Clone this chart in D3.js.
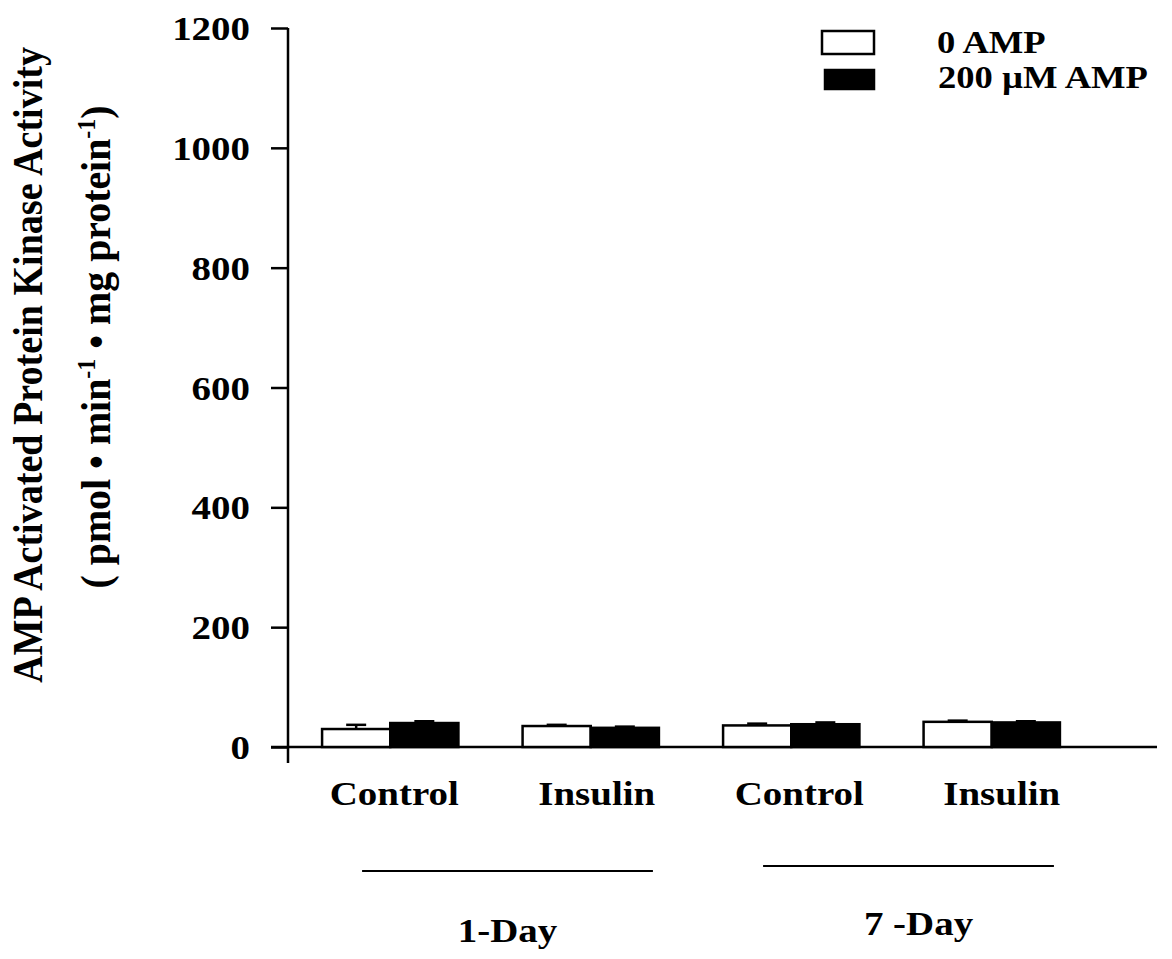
<!DOCTYPE html>
<html>
<head>
<meta charset="utf-8">
<script src="https://cdn.jsdelivr.net/npm/d3@7"></script>
<style>
  html, body { margin: 0; padding: 0; background: #fff; }
  svg { display: block; }
  text { font-family: "Liberation Serif", "Times New Roman", serif; font-weight: bold; fill: #000; }
</style>
</head>
<body>
<svg id="chart" width="1172" height="959"></svg>
<script>
// ---- data ----
const categories = ["Control", "Insulin", "Control", "Insulin"];
const groups = ["1-Day", "7 -Day"];
const groupOf = [0, 0, 1, 1];
const seriesNames = ["0 AMP", "200 \u00B5M AMP"];
const values0AMP = [30, 35, 36, 42];
const values200AMP = [40, 32, 38, 41];
const err0AMP = [7, 2, 3, 2];
const err200AMP = [3, 2, 3, 2];
const yTicks = [0, 200, 400, 600, 800, 1000, 1200];

// ---- layout ----
const svg = d3.select("#chart");
const SX = 1.18; // horizontal stretch of the scanned lettering
const axisX = 288;

const y = d3.scaleLinear().domain([0, 1200]).range([747, 28]);
const x = d3.scaleBand().domain(d3.range(categories.length))
  .range([290, 1092]).paddingInner(0.32).paddingOuter(0.16);
const xs = d3.scaleBand().domain([0, 1]).range([0, x.bandwidth()]);

const seriesValues = [values0AMP, values200AMP];
const seriesErr = [err0AMP, err200AMP];
const fills = ["#fff", "#000"];

// y axis
const yAxis = d3.axisLeft(y).tickValues(yTicks).tickSize(17).tickPadding(21).tickFormat(d3.format("d"));
const gy = svg.append("g").attr("transform", `translate(${axisX},0)`).call(yAxis);
gy.select(".domain").remove();
gy.selectAll(".tick line").attr("stroke", "#000").attr("stroke-width", 2.5);
gy.selectAll(".tick text")
  .attr("x", null).attr("dy", null)
  .attr("transform", `translate(-38,0) scale(${SX},1)`)
  .attr("dy", "0.35em")
  .style("font-size", "33px")
  .style("font-family", "'Liberation Serif', serif")
  .style("font-weight", "bold")
  .attr("text-anchor", "end");

svg.append("line")
  .attr("x1", axisX).attr("x2", axisX)
  .attr("y1", y(1200)).attr("y2", y(0) + 16)
  .attr("stroke", "#000").attr("stroke-width", 2.5);

// baseline
svg.append("line")
  .attr("x1", axisX - 17).attr("x2", 1157)
  .attr("y1", y(0)).attr("y2", y(0))
  .attr("stroke", "#000").attr("stroke-width", 2.5);

// bars
const barData = [];
categories.forEach((c, i) => {
  [0, 1].forEach(s => barData.push({ i, s, v: seriesValues[s][i], e: seriesErr[s][i] }));
});

svg.append("g").selectAll("rect").data(barData).join("rect")
  .attr("x", d => x(d.i) + xs(d.s))
  .attr("width", xs.bandwidth())
  .attr("y", d => y(d.v))
  .attr("height", d => y(0) - y(d.v))
  .attr("fill", d => fills[d.s])
  .attr("stroke", "#000")
  .attr("stroke-width", 2.5);

// error bars
const eg = svg.append("g").attr("stroke", "#000").attr("stroke-width", 2.5);
barData.forEach(d => {
  const cx = x(d.i) + xs(d.s) + xs.bandwidth() / 2;
  eg.append("line").attr("x1", cx).attr("x2", cx).attr("y1", y(d.v)).attr("y2", y(d.v + d.e));
  eg.append("line").attr("x1", cx - 10).attr("x2", cx + 10).attr("y1", y(d.v + d.e)).attr("y2", y(d.v + d.e));
});

// category labels
svg.append("g").selectAll("text").data(categories).join("text")
  .attr("transform", (d, i) => `translate(${x(i) + x.bandwidth() / 2 + 4 + i * 2},805) scale(${SX},1)`)
  .attr("text-anchor", "middle")
  .style("font-size", "33px")
  .text(d => d);

// group brackets + labels
groups.forEach((g, gi) => {
  const idx = d3.range(categories.length).filter(i => groupOf[i] === gi);
  const x1 = x(idx[0]) + 40;
  const x2 = x(idx[idx.length - 1]) + x.bandwidth() - 6;
  const ly = gi === 0 ? 871 : 866;
  svg.append("line").attr("x1", x1).attr("x2", x2).attr("y1", ly).attr("y2", ly)
    .attr("stroke", "#000").attr("stroke-width", 2.2);
  svg.append("text")
    .attr("transform", `translate(${(x1 + x2) / 2 + (gi === 0 ? 0 : 10)},${gi === 0 ? 942 : 935}) scale(${SX},1)`)
    .attr("text-anchor", "middle")
    .style("font-size", "33px")
    .text(g);
});

// legend
const legend = svg.append("g");
const legRects = [[822, 31, 52, 23], [825, 70, 49, 19]];
const legText = [[937, 53], [938, 88]];
seriesNames.forEach((name, s) => {
  const r = legRects[s];
  legend.append("rect").attr("x", r[0]).attr("y", r[1]).attr("width", r[2]).attr("height", r[3])
    .attr("fill", fills[s]).attr("stroke", "#000").attr("stroke-width", 2.5);
  legend.append("text")
    .attr("transform", `translate(${legText[s][0]},${legText[s][1]}) scale(${SX},1)`)
    .style("font-size", "31px")
    .text(name);
});

// y title
svg.append("text")
  .attr("transform", `translate(42,365) rotate(-90) scale(1,${SX})`)
  .attr("text-anchor", "middle")
  .style("font-size", "36px")
  .attr("textLength", 636)
  .attr("lengthAdjust", "spacingAndGlyphs")
  .text("AMP Activated Protein Kinase  Activity");

const t2 = svg.append("text")
  .attr("transform", `translate(110,347) rotate(-90) scale(1,${SX})`)
  .attr("text-anchor", "middle")
  .attr("textLength", 483)
  .attr("lengthAdjust", "spacingAndGlyphs")
  .style("font-size", "35px");
t2.append("tspan").text("( pmol \u2022 min");
t2.append("tspan").attr("dy", -13).style("font-size", "21px").text("-1");
t2.append("tspan").attr("dy", 13).text(" \u2022 mg protein");
t2.append("tspan").attr("dy", -13).style("font-size", "21px").text("-1");
t2.append("tspan").attr("dy", 13).text(")");
</script>
</body>
</html>
